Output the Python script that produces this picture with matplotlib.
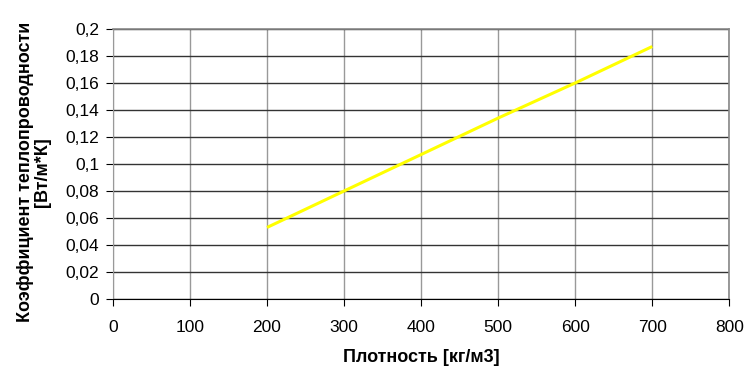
import matplotlib.pyplot as plt
from matplotlib.ticker import FuncFormatter

plt.rcParams['font.family'] = ['Liberation Sans', 'DejaVu Sans']

density = [200, 300, 400, 500, 600, 700]
conductivity = [0.053, 0.080, 0.107, 0.134, 0.160, 0.187]
x_ticks = [0, 100, 200, 300, 400, 500, 600, 700, 800]
y_ticks = [0, 0.02, 0.04, 0.06, 0.08, 0.1, 0.12, 0.14, 0.16, 0.18, 0.2]

fig = plt.figure(figsize=(7.48, 3.71), dpi=100)
ax = fig.add_axes([0.151, 0.194, 0.824, 0.728])

ax.plot(density, conductivity, color='#FFFF00', linewidth=2.2, solid_capstyle='butt', zorder=3)

ax.set_xlim(0, 800)
ax.set_ylim(0, 0.2)
ax.set_xticks(x_ticks)
ax.set_yticks(y_ticks)

def comma(v, pos):
    s = ('%.2f' % v).rstrip('0').rstrip('.')
    return s.replace('.', ',')

ax.yaxis.set_major_formatter(FuncFormatter(comma))
ax.xaxis.set_major_formatter(FuncFormatter(lambda v, p: '%d' % v))

# grid: dark horizontal lines, lighter vertical lines
ax.grid(axis='y', color='#333333', linewidth=1)
ax.grid(axis='x', color='#999999', linewidth=1)
ax.set_axisbelow(True)

for side in ['top', 'right']:
    ax.spines[side].set_color('#888888')
    ax.spines[side].set_linewidth(1.2)
ax.spines['left'].set_color('#999999')
ax.spines['bottom'].set_color('black')

ax.tick_params(axis='both', direction='out', length=5, color='black', labelsize=12.5, pad=5)
ax.tick_params(axis='x', pad=10)

ax.set_xlabel('Плотность [кг/м3]', fontsize=13, fontweight='bold', labelpad=10)
ax.set_ylabel('Коэффициент теплопроводности\n[Вт/м*К]', fontsize=13, fontweight='bold',
              labelpad=8, linespacing=1.05)
ax.yaxis.set_label_coords(-0.1, 0.47)

fig.savefig('out.png', dpi=100)
